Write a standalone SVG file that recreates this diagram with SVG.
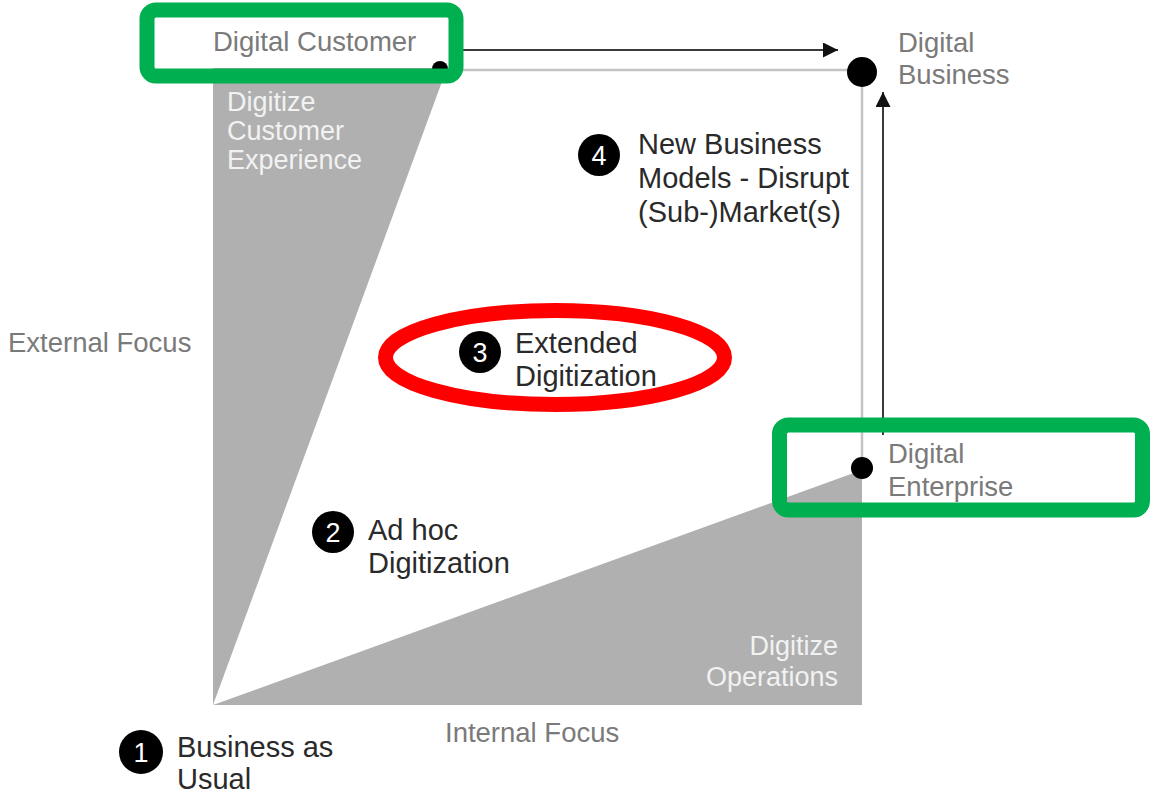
<svg xmlns="http://www.w3.org/2000/svg" width="1150" height="795" viewBox="0 0 1150 795">
<defs>
<style>
text{font-family:"Liberation Sans",Arial,sans-serif}
.lbl{fill:#7a7a7a;font-size:27.5px}
.dark{fill:#2a2a2a;font-size:29px}
.light{fill:#f2f2f2;font-size:27px}
.num{fill:#fff;font-size:27px;text-anchor:middle}
.gfill{fill:#b0b0b0}
.frame{stroke:#c4c4c4;stroke-width:2.5;fill:none}
.arr{stroke:#3a3a3a;stroke-width:2;fill:none;marker-end:url(#ah)}
.green{fill:none;stroke:#00b050;stroke-width:15}
</style>
<marker id="ah" viewBox="0 0 10 10" refX="10" refY="5" markerWidth="7.5" markerHeight="7.5" markerUnits="strokeWidth" orient="auto"><path d="M0,0L10,5L0,10z" fill="#111"/></marker>
</defs>
<rect width="1150" height="795" fill="#fff"/>
<g id="areas">
<polygon class="gfill" points="213,705 213,68 447,68"/>
<polygon class="gfill" points="213,705 862,470 862,705"/>
</g>
<g id="connectors">
<line class="frame" x1="445" y1="70" x2="855" y2="70"/>
<line class="frame" x1="862" y1="72" x2="862" y2="466"/>
<line class="arr" x1="462" y1="50" x2="838" y2="50"/>
<line class="arr" x1="883" y1="435" x2="883" y2="92"/>
</g>
<g id="dots">
<circle cx="440" cy="69" r="8" fill="#000"/>
<circle cx="862" cy="72" r="15" fill="#000"/>
<circle cx="862" cy="468" r="11" fill="#000"/>
</g>
<g id="node-digital-customer">
<text class="lbl" x="213" y="51">Digital Customer</text>
<rect class="green" x="147" y="10" width="309" height="66" rx="9"/>
</g>
<g id="node-digital-business">
<text class="lbl" x="898" y="52">Digital</text>
<text class="lbl" x="898" y="84">Business</text>
</g>
<g id="node-digitize-cx">
<text class="light" x="227" y="111">Digitize</text>
<text class="light" x="227" y="140">Customer</text>
<text class="light" x="227" y="169">Experience</text>
</g>
<g id="node-4">
<circle cx="599" cy="155" r="21" fill="#000"/>
<text class="num" x="599" y="165">4</text>
<text class="dark" x="638" y="154">New Business</text>
<text class="dark" x="638" y="188">Models - Disrupt</text>
<text class="dark" x="638" y="222">(Sub-)Market(s)</text>
</g>
<g id="node-external">
<text class="lbl" x="8" y="352">External Focus</text>
</g>
<g id="node-3">
<circle cx="480" cy="352" r="21" fill="#000"/>
<text class="num" x="480" y="362">3</text>
<text class="dark" x="515" y="353">Extended</text>
<text class="dark" x="515" y="386">Digitization</text>
<ellipse cx="555" cy="357.5" rx="169.5" ry="47" fill="none" stroke="#ff0000" stroke-width="15"/>
</g>
<g id="node-digital-enterprise">
<text class="lbl" x="888" y="463">Digital</text>
<text class="lbl" x="888" y="496">Enterprise</text>
<rect class="green" x="779.5" y="425" width="363" height="85" rx="9"/>
</g>
<g id="node-2">
<circle cx="333" cy="532" r="21" fill="#000"/>
<text class="num" x="333" y="542">2</text>
<text class="dark" x="368" y="540">Ad hoc</text>
<text class="dark" x="368" y="573">Digitization</text>
</g>
<g id="node-digitize-ops">
<text class="light" x="838" y="655" text-anchor="end">Digitize</text>
<text class="light" x="838" y="686" text-anchor="end">Operations</text>
</g>
<g id="node-internal">
<text class="lbl" x="445" y="742">Internal Focus</text>
</g>
<g id="node-1">
<circle cx="141" cy="752" r="22" fill="#000"/>
<text class="num" x="141" y="762">1</text>
<text class="dark" x="177" y="757">Business as</text>
<text class="dark" x="177" y="789">Usual</text>
</g>
</svg>
